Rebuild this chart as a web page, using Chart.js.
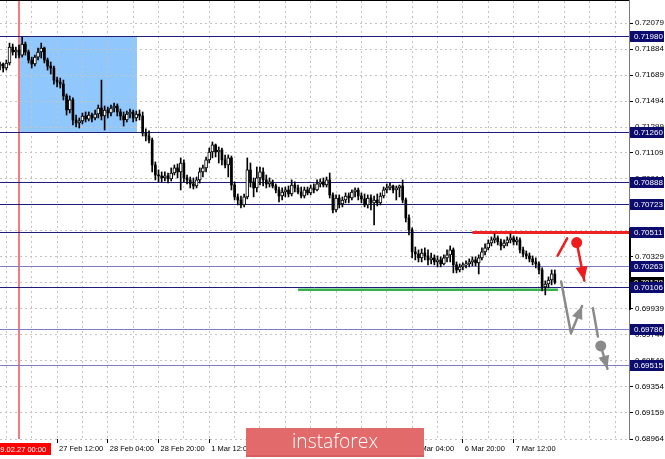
<!DOCTYPE html>
<html><head><meta charset="utf-8">
<script src="https://cdn.jsdelivr.net/npm/chart.js@4.4.0/dist/chart.umd.min.js"></script>
<style>html,body{margin:0;padding:0;background:#fff;overflow:hidden}#wrap{width:665px;height:459px}canvas{display:block}</style>
</head><body><div id="wrap"><canvas id="c" width="665" height="459"></canvas></div>
<script>
// H1 bars, index counted in trading hours from 2019.02.27 00:00 (first bar = -6)
const firstBar = -6;
const opens = [
0.71757,0.71772,0.71742,0.71780,0.71899,0.71862,0.71877,0.71839,0.71922,0.71862,
0.71802,0.71772,0.71824,0.71862,0.71892,0.71802,0.71757,0.71742,0.71652,0.71637,
0.71622,0.71533,0.71428,0.71503,0.71353,0.71331,0.71346,0.71383,0.71360,0.71390,
0.71368,0.71398,0.71443,0.71383,0.71428,0.71405,0.71443,0.71458,0.71413,0.71383,
0.71353,0.71398,0.71413,0.71368,0.71398,0.71383,0.71256,0.71233,0.71203,0.71016,
0.70941,0.70934,0.70919,0.70934,0.70911,0.70956,0.70994,0.70964,0.71031,0.70919,
0.70904,0.70874,0.70859,0.70904,0.70964,0.70994,0.71054,0.71113,0.71166,0.71113,
0.71128,0.71054,0.71016,0.71069,0.70866,0.70777,0.70754,0.70717,0.70777,0.70979,
0.70889,0.70844,0.70919,0.70964,0.70904,0.70874,0.70889,0.70859,0.70829,0.70784,
0.70814,0.70829,0.70799,0.70866,0.70844,0.70814,0.70784,0.70829,0.70807,0.70844,
0.70829,0.70874,0.70889,0.70866,0.70904,0.70792,0.70679,0.70769,0.70724,0.70754,
0.70784,0.70769,0.70814,0.70829,0.70784,0.70762,0.70717,0.70769,0.70732,0.70754,
0.70732,0.70784,0.70829,0.70844,0.70859,0.70829,0.70844,0.70859,0.70754,0.70619,
0.70530,0.70365,0.70350,0.70320,0.70357,0.70335,0.70305,0.70320,0.70290,0.70305,
0.70275,0.70320,0.70343,0.70380,0.70268,0.70230,0.70253,0.70268,0.70275,0.70290,
0.70305,0.70283,0.70320,0.70365,0.70395,0.70432,0.70455,0.70470,0.70440,0.70410,
0.70432,0.70455,0.70470,0.70440,0.70455,0.70380,0.70350,0.70335,0.70313,0.70290,
0.70275,0.70230,0.70103,0.70125,0.70155,0.70200];
const highs = [
0.71787,0.71780,0.71802,0.71929,0.71922,0.71899,0.71914,0.71974,0.71937,0.71877,
0.71824,0.71839,0.71892,0.71929,0.71899,0.71817,0.71787,0.71757,0.71675,0.71667,
0.71652,0.71548,0.71533,0.71518,0.71390,0.71368,0.71405,0.71413,0.71413,0.71405,
0.71428,0.71465,0.71652,0.71458,0.71450,0.71465,0.71480,0.71473,0.71435,0.71413,
0.71420,0.71435,0.71428,0.71420,0.71428,0.71413,0.71286,0.71271,0.71218,0.71039,
0.70979,0.70964,0.70964,0.70956,0.70994,0.71016,0.71024,0.71069,0.71054,0.70941,
0.70926,0.70919,0.70926,0.70994,0.71016,0.71076,0.71143,0.71188,0.71173,0.71151,
0.71143,0.71091,0.71091,0.71083,0.70889,0.70799,0.70784,0.70799,0.71069,0.71031,
0.70919,0.71001,0.71001,0.70994,0.70941,0.70919,0.70904,0.70874,0.70851,0.70844,
0.70851,0.70859,0.70904,0.70889,0.70866,0.70851,0.70851,0.70851,0.70866,0.70874,
0.70904,0.70911,0.70919,0.70926,0.70956,0.70807,0.70792,0.70792,0.70777,0.70807,
0.70807,0.70829,0.70844,0.70844,0.70807,0.70799,0.70792,0.70792,0.70784,0.70799,
0.70807,0.70851,0.70874,0.70881,0.70866,0.70859,0.70866,0.70904,0.70769,0.70642,
0.70545,0.70402,0.70380,0.70387,0.70395,0.70380,0.70357,0.70343,0.70335,0.70328,
0.70343,0.70380,0.70410,0.70395,0.70290,0.70275,0.70283,0.70298,0.70313,0.70328,
0.70328,0.70343,0.70395,0.70425,0.70455,0.70477,0.70500,0.70485,0.70462,0.70455,
0.70477,0.70500,0.70485,0.70477,0.70470,0.70402,0.70372,0.70357,0.70335,0.70320,
0.70290,0.70245,0.70148,0.70178,0.70230,0.70230];
const lows = [
0.71727,0.71712,0.71727,0.71765,0.71839,0.71817,0.71817,0.71824,0.71839,0.71780,
0.71742,0.71757,0.71802,0.71817,0.71780,0.71727,0.71697,0.71622,0.71600,0.71592,
0.71503,0.71390,0.71405,0.71316,0.71301,0.71293,0.71323,0.71338,0.71346,0.71338,
0.71353,0.71368,0.71353,0.71278,0.71368,0.71383,0.71413,0.71383,0.71353,0.71308,
0.71338,0.71368,0.71338,0.71346,0.71353,0.71233,0.71196,0.71181,0.70964,0.70904,
0.70889,0.70889,0.70896,0.70881,0.70896,0.70941,0.70919,0.70829,0.70889,0.70874,
0.70844,0.70836,0.70844,0.70881,0.70926,0.70964,0.71031,0.71069,0.71076,0.71031,
0.71016,0.70994,0.70926,0.70829,0.70754,0.70717,0.70694,0.70702,0.70762,0.70851,
0.70777,0.70814,0.70866,0.70859,0.70844,0.70851,0.70844,0.70807,0.70739,0.70754,
0.70777,0.70777,0.70784,0.70814,0.70799,0.70769,0.70769,0.70792,0.70792,0.70807,
0.70821,0.70851,0.70851,0.70851,0.70769,0.70657,0.70664,0.70694,0.70702,0.70732,
0.70732,0.70754,0.70777,0.70754,0.70732,0.70702,0.70694,0.70679,0.70567,0.70709,
0.70717,0.70769,0.70807,0.70829,0.70807,0.70754,0.70777,0.70732,0.70589,0.70492,
0.70320,0.70305,0.70290,0.70290,0.70305,0.70268,0.70275,0.70268,0.70253,0.70253,
0.70268,0.70290,0.70290,0.70208,0.70208,0.70215,0.70230,0.70245,0.70253,0.70260,
0.70260,0.70200,0.70305,0.70343,0.70380,0.70410,0.70432,0.70417,0.70380,0.70395,
0.70410,0.70432,0.70417,0.70417,0.70357,0.70328,0.70313,0.70290,0.70268,0.70245,
0.70200,0.70073,0.70043,0.70096,0.70118,0.70125];
const closes = [
0.71772,0.71742,0.71780,0.71899,0.71862,0.71877,0.71839,0.71922,0.71862,0.71802,
0.71772,0.71824,0.71862,0.71892,0.71802,0.71757,0.71742,0.71652,0.71637,0.71622,
0.71533,0.71428,0.71503,0.71353,0.71331,0.71346,0.71383,0.71360,0.71390,0.71368,
0.71398,0.71443,0.71383,0.71428,0.71405,0.71443,0.71458,0.71413,0.71383,0.71353,
0.71398,0.71413,0.71368,0.71398,0.71383,0.71256,0.71233,0.71203,0.71016,0.70941,
0.70934,0.70919,0.70934,0.70911,0.70956,0.70994,0.70964,0.71031,0.70919,0.70904,
0.70874,0.70859,0.70904,0.70964,0.70994,0.71054,0.71113,0.71166,0.71113,0.71128,
0.71054,0.71016,0.71069,0.70866,0.70777,0.70754,0.70717,0.70777,0.70979,0.70889,
0.70844,0.70919,0.70964,0.70904,0.70874,0.70889,0.70859,0.70829,0.70784,0.70814,
0.70829,0.70799,0.70866,0.70844,0.70814,0.70784,0.70829,0.70807,0.70844,0.70829,
0.70874,0.70889,0.70866,0.70904,0.70792,0.70679,0.70769,0.70724,0.70754,0.70784,
0.70769,0.70814,0.70829,0.70784,0.70762,0.70717,0.70769,0.70732,0.70754,0.70732,
0.70784,0.70829,0.70844,0.70859,0.70829,0.70844,0.70859,0.70754,0.70619,0.70530,
0.70365,0.70350,0.70320,0.70357,0.70335,0.70305,0.70320,0.70290,0.70305,0.70275,
0.70320,0.70343,0.70380,0.70268,0.70230,0.70253,0.70268,0.70275,0.70290,0.70305,
0.70283,0.70320,0.70365,0.70395,0.70432,0.70455,0.70470,0.70440,0.70410,0.70432,
0.70455,0.70470,0.70440,0.70455,0.70380,0.70350,0.70335,0.70313,0.70290,0.70275,
0.70230,0.70103,0.70125,0.70155,0.70200,0.70138];

const yTickLabels = ['0.72079','0.71884','0.71689','0.71494','0.71299','0.71109','0.70914','0.70719',
  '0.70524','0.70329','0.70134','0.69939','0.69744','0.69549','0.69354','0.69159','0.68964'];
const xTickBars = [12,28,44,60,76,92,108,124,140,156];
const xTickLabels = ['27 Feb 12:00','28 Feb 04:00','28 Feb 20:00','1 Mar 12:00','4 Mar 04:00',
  '4 Mar 20:00','5 Mar 12:00','6 Mar 04:00','6 Mar 20:00','7 Mar 12:00'];
const startLabel = '2019.02.27 00:00';
const levelPrices = [0.71980,0.71260,0.70888,0.70723,0.70511,0.70263,0.70106,0.69786,0.69515];
const levelTone   = ['dark','dark','dark','dark','dark','light','dark','light','light'];
const currentPrice = 0.70138;
const zone = {fromBar:0, toBar:37.2, top:0.71980, bottom:0.71260};
const resistance = {fromBar:143, price:0.70511};
const support = {fromBar:88, toBar:170, price:0.70081};
// scenario sketches (bar, price)
const redSlash = [[169.9,0.70337],[172.9,0.70467]];
const redDrop = [[175.9,0.70435],[178.3,0.70150]];
const greyPath = [[171.0,0.70143],[174.1,0.69756],[177.6,0.69960]];
const greyDash = [[181.0,0.69944],[182.6,0.69731]];
const greyDrop = [[183.5,0.69661],[185.6,0.69490]];

const bars = opens.map((_, k) => firstBar + k);
const bull = [], bear = [], wicks = [];
opens.forEach((o, k) => {
  wicks.push({x: bars[k], y: [lows[k], highs[k]]});
  (closes[k] >= o ? bull : bear).push({x: bars[k], y: [o, closes[k]]});
});
const xGrid = [];
for (let v = -4; v <= 188; v += 8) xGrid.push(v);

function arrowHead(ctx, from, to, len, half) {
  const a = Math.atan2(to[1]-from[1], to[0]-from[0]);
  const bx = to[0]-len*Math.cos(a), by = to[1]-len*Math.sin(a);
  ctx.beginPath();
  ctx.moveTo(to[0], to[1]);
  ctx.lineTo(bx + half*Math.sin(a), by - half*Math.cos(a));
  ctx.lineTo(bx - half*Math.sin(a), by + half*Math.cos(a));
  ctx.closePath(); ctx.fill();
}

const overlay = {
  id: 'overlay',
  beforeDraw(chart) {
    const {ctx, scales: {x, y}} = chart;
    ctx.save();
    ctx.fillStyle = '#fff'; ctx.fillRect(0, 0, chart.width, chart.height);
    const x0 = x.getPixelForValue(zone.fromBar), x1 = x.getPixelForValue(zone.toBar);
    const y0 = y.getPixelForValue(zone.top), y1 = y.getPixelForValue(zone.bottom);
    ctx.fillStyle = '#90c8fd'; ctx.fillRect(x0, y0, x1-x0, y1-y0);
    ctx.restore();
  },
  beforeDatasetsDraw(chart) {
    const {ctx, chartArea: a, scales: {x, y}} = chart;
    ctx.save();
    ctx.beginPath(); ctx.rect(a.left, a.top, a.right-a.left, a.bottom-a.top); ctx.clip();
    // start marker
    const sx = Math.round(x.getPixelForValue(0));
    ctx.strokeStyle = '#f57c7c'; ctx.lineWidth = 2;
    ctx.beginPath(); ctx.moveTo(sx, a.top); ctx.lineTo(sx, a.bottom); ctx.stroke();
    ctx.lineWidth = 1;
    levelPrices.forEach((p, k) => {
      const py = Math.round(y.getPixelForValue(p)) + 0.5;
      ctx.strokeStyle = levelTone[k] === 'dark' ? '#1e1e7a' : '#7c7cc8';
      ctx.beginPath(); ctx.moveTo(a.left, py); ctx.lineTo(a.right, py); ctx.stroke();
    });
    ctx.lineWidth = 3; ctx.strokeStyle = '#ee2222';
    let py = y.getPixelForValue(resistance.price);
    ctx.beginPath(); ctx.moveTo(x.getPixelForValue(resistance.fromBar), py); ctx.lineTo(a.right, py); ctx.stroke();
    ctx.lineWidth = 2.5; ctx.strokeStyle = '#35b34a';
    py = y.getPixelForValue(support.price);
    ctx.beginPath(); ctx.moveTo(x.getPixelForValue(support.fromBar), py); ctx.lineTo(x.getPixelForValue(support.toBar), py); ctx.stroke();
    ctx.restore();
  },
  afterDatasetsDraw(chart) {
    const {ctx, scales: {x, y}} = chart;
    const P = (pt) => [x.getPixelForValue(pt[0]), y.getPixelForValue(pt[1])];
    ctx.save(); ctx.lineCap = 'round'; ctx.lineJoin = 'round';
    // red scenario
    ctx.strokeStyle = '#ee1c1c'; ctx.fillStyle = '#ee1c1c'; ctx.lineWidth = 2.5;
    let a = P(redSlash[0]), b = P(redSlash[1]);
    ctx.beginPath(); ctx.moveTo(a[0], a[1]); ctx.lineTo(b[0], b[1]); ctx.stroke();
    a = P(redDrop[0]); b = P(redDrop[1]);
    ctx.beginPath(); ctx.arc(a[0], a[1], 5.5, 0, Math.PI*2); ctx.fill();
    ctx.beginPath(); ctx.moveTo(a[0], a[1]); ctx.lineTo(b[0], b[1]); ctx.stroke();
    arrowHead(ctx, a, b, 14, 6);
    // grey scenario
    ctx.strokeStyle = '#8a8a8a'; ctx.fillStyle = '#8a8a8a'; ctx.lineWidth = 2.5;
    const g = greyPath.map(P);
    ctx.beginPath(); ctx.moveTo(g[0][0], g[0][1]);
    g.slice(1).forEach(p => ctx.lineTo(p[0], p[1])); ctx.stroke();
    arrowHead(ctx, g[1], g[2], 13, 5.5);
    a = P(greyDash[0]); b = P(greyDash[1]);
    ctx.beginPath(); ctx.moveTo(a[0], a[1]); ctx.lineTo(b[0], b[1]); ctx.stroke();
    a = P(greyDrop[0]); b = P(greyDrop[1]);
    ctx.beginPath(); ctx.arc(a[0], a[1], 5.5, 0, Math.PI*2); ctx.fill();
    ctx.beginPath(); ctx.moveTo(a[0], a[1]); ctx.lineTo(b[0], b[1]); ctx.stroke();
    arrowHead(ctx, a, b, 13, 5.5);
    ctx.restore();
  },
  afterDraw(chart) {
    const {ctx, chartArea: ar, scales: {x, y}} = chart;
    ctx.save();
    // frame
    ctx.lineWidth = 1;
    ctx.strokeStyle = '#000';
    ctx.beginPath(); ctx.moveTo(0, 0.5); ctx.lineTo(ar.right + 0.5, 0.5); ctx.stroke();
    ctx.strokeStyle = '#7a7a7a';
    ctx.beginPath(); ctx.moveTo(ar.right + 0.5, 0); ctx.lineTo(ar.right + 0.5, ar.bottom + 1); ctx.stroke();
    ctx.fillStyle = '#000';
    const bt = y.getPixelForValue(0.70545), bb = y.getPixelForValue(0.69931);
    ctx.fillRect(ar.right, bt, 2, bb - bt);
    // price labels
    ctx.font = '8px "Liberation Sans", Arial, sans-serif';
    ctx.textBaseline = 'middle'; ctx.textAlign = 'left';
    const lab = (p, bg) => {
      const py = Math.round(y.getPixelForValue(p));
      ctx.fillStyle = bg; ctx.fillRect(ar.right + 1, py - 5, 34, 11);
      ctx.fillStyle = '#fff'; ctx.fillText(p.toFixed(5), ar.right + 5, py + 0.5);
    };
    lab(currentPrice, '#000');
    levelPrices.forEach(p => lab(p, '#0c0c6e'));
    // start date label
    const sx = x.getPixelForValue(0);
    ctx.font = '7.5px "Liberation Sans", Arial, sans-serif';
    ctx.fillStyle = '#ff0000'; ctx.fillRect(sx - 36, ar.bottom + 4, 68, 12);
    ctx.fillStyle = '#fff'; ctx.textAlign = 'center';
    ctx.fillText(startLabel, sx - 2, ar.bottom + 10.5);
    // watermark
    ctx.fillStyle = '#e26a6a'; ctx.fillRect(246, 428, 178, 29);
    ctx.fillStyle = '#d65e5e'; ctx.fillRect(246, 455, 178, 2);
    ctx.font = '300 21px "Open Sans", sans-serif';
    const w = ctx.measureText('instaforex').width;
    const fs = 21 * 86 / w;
    ctx.font = '300 ' + fs.toFixed(2) + 'px "Open Sans", sans-serif';
    ctx.fillStyle = '#fff'; ctx.textAlign = 'center'; ctx.textBaseline = 'alphabetic';
    ctx.fillText('instaforex', 335, 448);
    ctx.restore();
  }
};

new Chart(document.getElementById('c'), {
  type: 'bar',
  data: {datasets: [
    {data: bear, backgroundColor: '#000', borderWidth: 0, barThickness: 2, minBarLength: 1, grouped: false},
    {data: bull, backgroundColor: '#fff', borderColor: '#000', borderWidth: 1, borderSkipped: false,
     barThickness: 3, minBarLength: 1, grouped: false},
    {data: wicks, backgroundColor: '#000', borderWidth: 0, barThickness: 1, grouped: false}
  ]},
  options: {
    responsive: false, animation: false, devicePixelRatio: 1,
    layout: {padding: {top: 1, left: 0, right: 0, bottom: 0}, autoPadding: false},
    plugins: {legend: {display: false}, tooltip: {enabled: false}},
    scales: {
      x: {
        type: 'linear', min: -6, max: 192.4, offset: false,
        grid: {offset: false, color: '#c4c4c4', lineWidth: 1, drawTicks: true, tickLength: 4, tickWidth: 1,
          tickColor: (c) => (c.tick && xTickBars.includes(c.tick.value)) ? '#000' : 'rgba(0,0,0,0)'},
        border: {display: false, dash: [2, 3]},
        ticks: {autoSkip: false, maxRotation: 0, minRotation: 0, align: 'start', labelOffset: 2, padding: 1,
          color: '#000', font: {family: '"Liberation Sans", Arial, sans-serif', size: 7.5},
          callback: (v) => { const k = xTickBars.indexOf(v); return k >= 0 ? xTickLabels[k] : ''; }},
        afterBuildTicks: (s) => { s.ticks = xGrid.map(v => ({value: v})); },
        afterFit: (s) => { s.height = 20; s.paddingLeft = 0; s.paddingRight = 0; }
      },
      y: {
        position: 'right', min: 0.68964, max: 0.72244, beginAtZero: false,
        grid: {color: '#c4c4c4', lineWidth: 1, drawTicks: true, tickLength: 4, tickColor: '#000'},
        border: {display: false, dash: [2, 3]},
        ticks: {padding: 2, color: '#000', font: {family: '"Liberation Sans", Arial, sans-serif', size: 8},
          callback: (v, i) => yTickLabels[i]},
        afterBuildTicks: (s) => { s.ticks = yTickLabels.map(t => ({value: parseFloat(t)})); },
        afterFit: (s) => { s.width = 36; s.paddingTop = 0; s.paddingBottom = 0; }
      }
    }
  },
  plugins: [overlay]
});
</script>
</body></html>
